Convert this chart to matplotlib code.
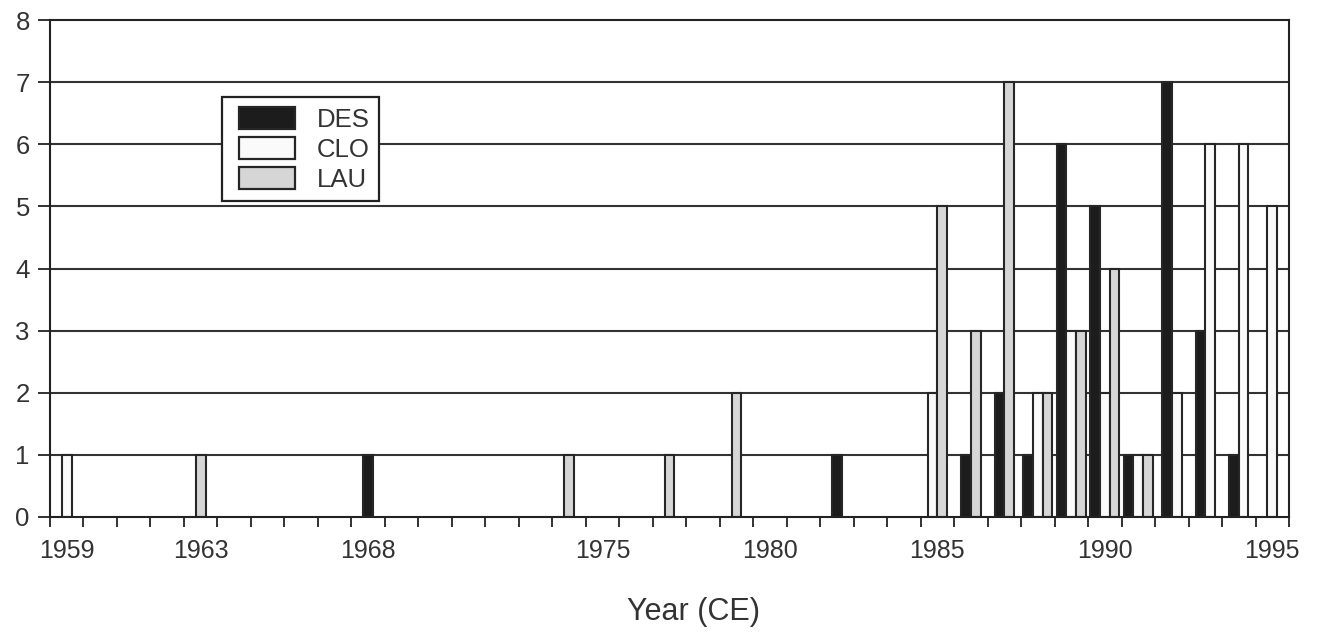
import matplotlib
matplotlib.use("Agg")
import matplotlib.pyplot as plt
from matplotlib.patches import Patch, Rectangle
from matplotlib.legend_handler import HandlerPatch
import numpy as np

plt.rcParams['font.family'] = ['Liberation Sans', 'DejaVu Sans']

# Yearly counts per site, 1959-1995
years = list(range(1959, 1996))
des = [0, 0, 0, 0, 0, 0, 0, 0, 0, 1,   # 1959-1968
       0, 0, 0, 0, 0, 0, 0, 0, 0, 0,   # 1969-1978
       0, 0, 0, 1, 0, 0, 0, 1, 2, 1,   # 1979-1988
       6, 5, 1, 7, 3, 1, 0]            # 1989-1995
clo = [1, 0, 0, 0, 0, 0, 0, 0, 0, 0,
       0, 0, 0, 0, 0, 0, 0, 0, 0, 0,
       0, 0, 0, 0, 0, 0, 2, 0, 0, 2,
       3, 2, 1, 2, 6, 6, 5]
lau = [0, 0, 0, 0, 1, 0, 0, 0, 0, 0,
       0, 0, 0, 0, 0, 1, 0, 0, 1, 0,
       2, 0, 0, 0, 0, 0, 5, 3, 7, 2,
       3, 4, 1, 0, 0, 0, 0]

series_names = ['DES', 'CLO', 'LAU']
series_colors = ['#1c1c1c', '#fafafa', '#d6d6d6']
label_years = [1959, 1963, 1968, 1975, 1980, 1985, 1990, 1995]

fig = plt.figure(figsize=(13.17, 6.40), dpi=100)
ax = fig.add_axes([50 / 1317, 1 - 517 / 640, (1289 - 50) / 1317, (517 - 20) / 640])

edge = '#262626'
bar_w = 0.29

# horizontal guide lines
for y in range(1, 8):
    ax.axhline(y, color='#333333', lw=1.5, zorder=1)

# each year's non-zero bars sit side by side, centred on the year
data = [des, clo, lau]
for i, yr in enumerate(years):
    present = [(k, data[k][i]) for k in range(3) if data[k][i] > 0]
    n = len(present)
    for j, (k, v) in enumerate(present):
        off = (j - (n - 1) / 2) * bar_w
        ax.bar(yr + off, v, width=bar_w, color=series_colors[k],
               edgecolor=edge, linewidth=1.5, zorder=2)

ax.set_xlim(years[0] - 0.5, years[-1] + 0.5)
ax.set_ylim(0, 8)

for s in ax.spines.values():
    s.set_color('#222222')
    s.set_linewidth(1.5)

ax.set_yticks(range(0, 9))
ax.tick_params(axis='y', length=8.5, width=1.3, labelsize=18.5, pad=6,
               color='#222222', labelcolor='#333333')

ax.set_xticks(label_years)
ax.set_xticklabels([str(y) for y in label_years])
ax.set_xticks(np.arange(years[0] - 0.5, years[-1] + 1.0, 1.0), minor=True)
ax.tick_params(axis='x', which='major', length=0, labelsize=18, pad=16,
               labelcolor='#333333')
ax.tick_params(axis='x', which='minor', length=7.5, width=1.3, color='#222222')

ax.set_xlabel('Year (CE)', fontsize=22, color='#333333')
ax.xaxis.set_label_coords((693.5 - 50) / 1239, (517 - 597) / 497)


class InsetPatchHandler(HandlerPatch):
    """Legend swatch drawn in the right part of the handle box."""
    def __init__(self, frac, **kw):
        super().__init__(**kw)
        self.frac = frac

    def create_artists(self, legend, orig_handle, xdescent, ydescent,
                       width, height, fontsize, trans):
        w = width * self.frac
        p = Rectangle((-xdescent + width - w, -ydescent), w, height)
        self.update_prop(p, orig_handle, legend)
        p.set_transform(trans)
        return [p]


handles = [Patch(facecolor=c, edgecolor=edge, linewidth=1.6) for c in series_colors]
handler = InsetPatchHandler(56 / 63)
leg = ax.legend(handles, series_names, loc='upper left',
                bbox_to_anchor=(222 / 1317, 1 - 97 / 640),
                bbox_transform=fig.transFigure, fontsize=18.5,
                frameon=True, fancybox=False, framealpha=1, edgecolor='#222222',
                handlelength=2.45, handleheight=0.97, labelspacing=0.19,
                handletextpad=0.86, borderpad=0.38, borderaxespad=0,
                handler_map={Patch: handler})
leg.get_frame().set_linewidth(1.6)
for t in leg.get_texts():
    t.set_color('#333333')
leg.set_zorder(5)

fig.savefig('out.png', dpi=100)
